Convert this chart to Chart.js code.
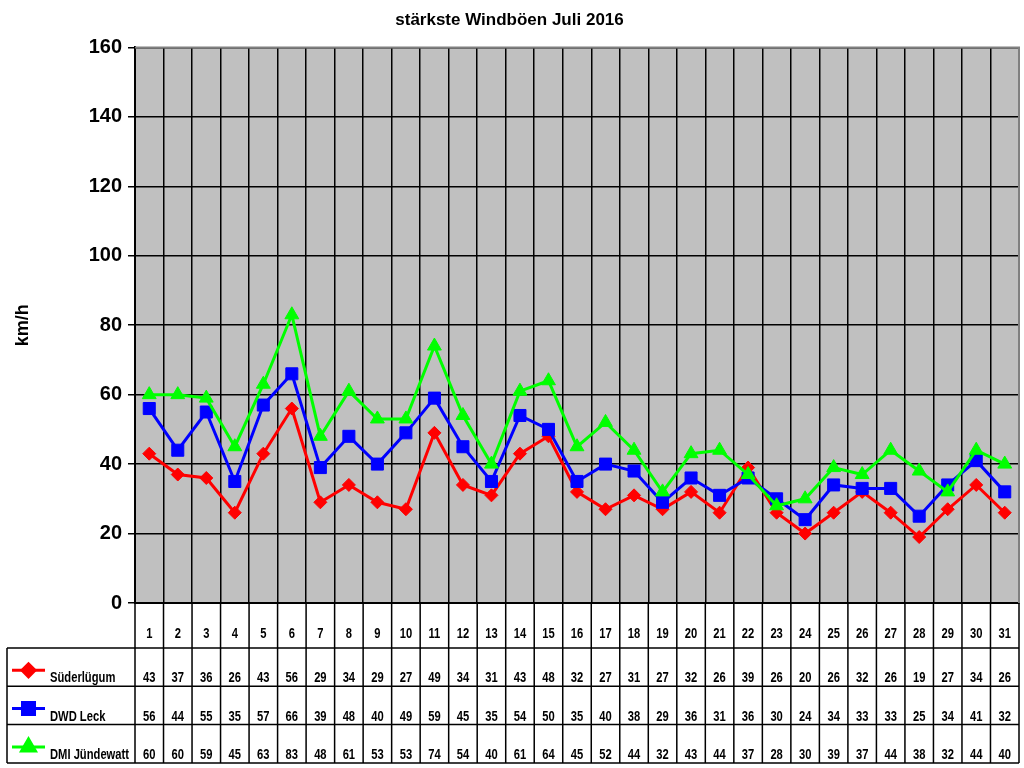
<!DOCTYPE html>
<html>
<head>
<meta charset="utf-8">
<script src="https://cdn.jsdelivr.net/npm/chart.js@4/dist/chart.umd.min.js"></script>
<style>
  html, body { margin: 0; padding: 0; background: #fff; }
</style>
</head>
<body>
<canvas id="wind" width="1024" height="768"></canvas>
<script>
// days of July 2016
var days = ["1","2","3","4","5","6","7","8","9","10","11","12","13","14","15","16",
            "17","18","19","20","21","22","23","24","25","26","27","28","29","30","31"];

// strongest gusts in km/h
var suederluegum = [43,37,36,26,43,56,29,34,29,27,49,34,31,43,48,32,27,31,27,32,26,39,26,20,26,32,26,19,27,34,26];
var dwdLeck      = [56,44,55,35,57,66,39,48,40,49,59,45,35,54,50,35,40,38,29,36,31,36,30,24,34,33,33,25,34,41,32];
var dmiJuende    = [60,60,59,45,63,83,48,61,53,53,74,54,40,61,64,45,52,44,32,43,44,37,28,30,39,37,44,38,32,44,40];

var seriesNames = ["Süderlügum", "DWD Leck", "DMI Jündewatt"];

var ARIAL = "Arial, 'Liberation Sans', sans-serif";

// grey plot area
var plotBg = {
    id: 'plotBg',
    beforeDraw: function(chart) {
        var ca = chart.chartArea, ctx = chart.ctx;
        ctx.save();
        ctx.fillStyle = '#C0C0C0';
        ctx.fillRect(ca.left, ca.top, ca.right - ca.left, ca.bottom - ca.top);
        ctx.restore();
    }
};

// squeezed bold text, the table font in the original looks condensed
function narrowText(ctx, txt, x, y, align) {
    ctx.save();
    ctx.translate(x, y);
    ctx.scale(0.8, 1);
    ctx.textAlign = align;
    ctx.fillText(txt, 0, 0);
    ctx.restore();
}

// Excel style data table under the plot
var dataTable = {
    id: 'dataTable',
    afterDraw: function(chart) {
        var ctx = chart.ctx, ca = chart.chartArea, x = chart.scales.x;
        var headBottom = ca.bottom + 45;
        var rowH = 38.3;
        var tableLeft = 7;
        var tableBottom = headBottom + rowH * 3;
        var i, r;

        ctx.save();
        // plot frame top / right
        ctx.strokeStyle = '#808080';
        ctx.lineWidth = 2;
        ctx.beginPath();
        ctx.moveTo(ca.left, ca.top);
        ctx.lineTo(ca.right, ca.top);
        ctx.lineTo(ca.right, ca.bottom);
        ctx.stroke();

        ctx.strokeStyle = '#000';
        ctx.lineWidth = 1.5;
        ctx.beginPath();
        for (i = 0; i <= days.length; i++) {
            var bx = x.getPixelForValue(i - 0.5);
            ctx.moveTo(bx, ca.bottom);
            ctx.lineTo(bx, tableBottom);
        }
        for (r = 0; r <= 3; r++) {
            var ry = headBottom + rowH * r;
            ctx.moveTo(tableLeft, ry);
            ctx.lineTo(ca.right, ry);
        }
        ctx.moveTo(tableLeft, headBottom);
        ctx.lineTo(tableLeft, tableBottom);
        ctx.stroke();

        ctx.font = 'bold 14px ' + ARIAL;
        ctx.fillStyle = '#000';
        ctx.textBaseline = 'alphabetic';
        // header: day numbers
        days.forEach(function(d, k) {
            narrowText(ctx, d, x.getPixelForValue(k), ca.bottom + 35, 'center');
        });

        for (r = 0; r < 3; r++) {
            var ds = chart.data.datasets[r];
            var rb = headBottom + rowH * (r + 1);
            var ly = rb - 16;
            // legend key
            ctx.strokeStyle = ds.borderColor;
            ctx.fillStyle = ds.backgroundColor;
            ctx.lineWidth = 3;
            ctx.beginPath();
            ctx.moveTo(12, ly);
            ctx.lineTo(45, ly);
            ctx.stroke();
            Chart.helpers.drawPoint(ctx, {
                pointStyle: ds.pointStyle,
                radius: ds.pointRadius,
                borderWidth: 1,
                rotation: 0
            }, 28.5, ly);
            ctx.fillStyle = '#000';
            narrowText(ctx, seriesNames[r], 50, rb - 4, 'left');
            // values
            ds.data.forEach(function(v, k) {
                narrowText(ctx, String(v), x.getPixelForValue(k), rb - 4, 'center');
            });
        }
        ctx.restore();
    }
};

var ctx = document.getElementById("wind");
var windChart = new Chart(ctx, {
    type: 'line',
    data: {
        labels: days,
        datasets: [{
            label: seriesNames[0],
            data: suederluegum,
            borderColor: '#FF0000',
            backgroundColor: '#FF0000',
            pointBackgroundColor: '#FF0000',
            borderWidth: 3,
            pointStyle: 'rectRot',
            pointRadius: 6.5,
            pointBorderWidth: 1,
            order: 2
        }, {
            label: seriesNames[1],
            data: dwdLeck,
            borderColor: '#0000FF',
            backgroundColor: '#0000FF',
            pointBackgroundColor: '#0000FF',
            borderWidth: 3,
            pointStyle: 'rect',
            pointRadius: 8.5,
            pointBorderWidth: 1,
            order: 1
        }, {
            label: seriesNames[2],
            data: dmiJuende,
            borderColor: '#00FF00',
            backgroundColor: '#00FF00',
            pointBackgroundColor: '#00FF00',
            borderWidth: 3,
            pointStyle: 'triangle',
            pointRadius: 8,
            pointBorderWidth: 1,
            order: 0
        }]
    },
    options: {
        responsive: false,
        animation: false,
        layout: { autoPadding: false, padding: { left: 0, right: 5, top: 0, bottom: 0 } },
        plugins: {
            legend: { display: false },
            tooltip: { enabled: false },
            title: {
                display: true,
                text: 'stärkste Windböen Juli 2016',
                color: '#000',
                font: { family: ARIAL, size: 17, weight: 'bold' },
                padding: { top: 10, bottom: 17 }
            }
        },
        scales: {
            x: {
                offset: true,
                grid: { offset: true, color: '#000', lineWidth: 1.5, drawTicks: false },
                border: { color: '#000', width: 2 },
                ticks: { display: false },
                afterFit: function(scale) { scale.height = 165; }
            },
            y: {
                min: 0,
                max: 160,
                ticks: {
                    stepSize: 20,
                    color: '#000',
                    padding: 6,
                    font: { family: ARIAL, size: 20, weight: 'bold' }
                },
                grid: { color: '#000', lineWidth: 1.5, tickLength: 7, tickColor: '#000' },
                border: { color: '#000', width: 2 },
                title: {
                    display: true,
                    text: 'km/h',
                    color: '#000',
                    font: { family: ARIAL, size: 18, weight: 'bold' },
                    padding: { top: 12, bottom: 0 }
                },
                afterFit: function(scale) { scale.width = 135; }
            }
        }
    },
    plugins: [plotBg, dataTable]
});
</script>
</body>
</html>
